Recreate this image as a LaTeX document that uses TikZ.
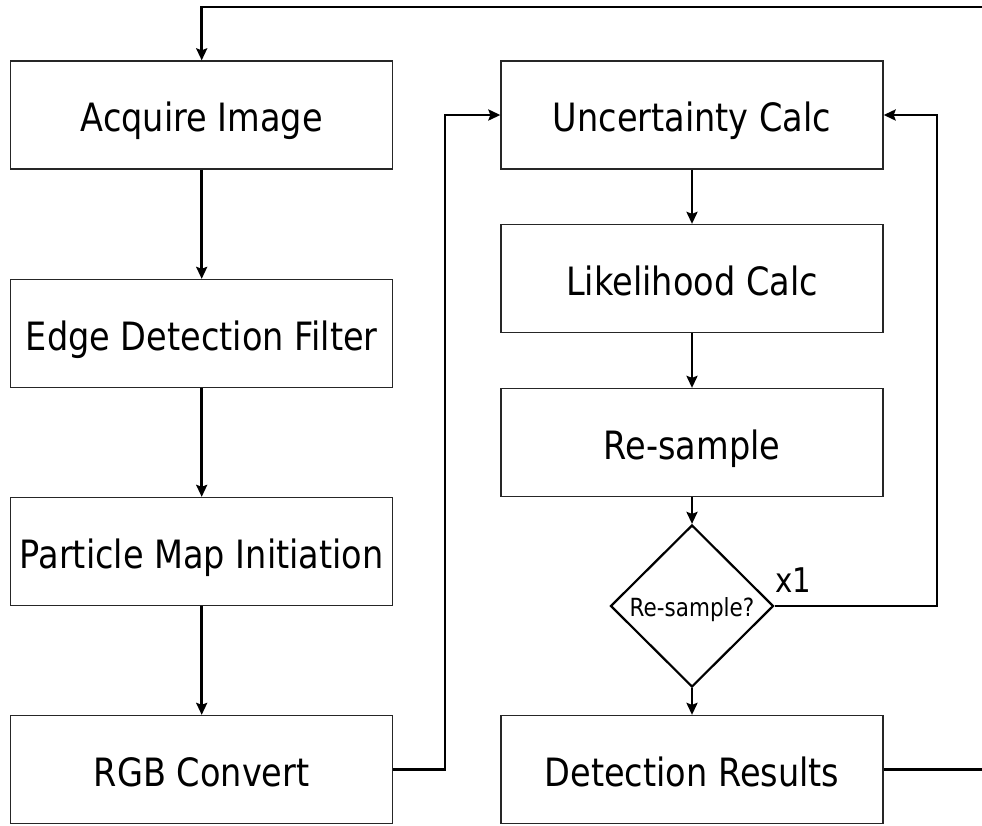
\documentclass[tikz,border=0pt]{standalone}
\usepackage{fontspec}
\setmainfont[FakeStretch=0.86]{DejaVu Sans}
\usetikzlibrary{shapes.geometric,arrows.meta}

\tikzset{
  procbox/.style={draw=black!85, line width=1.3pt, minimum width=382pt, minimum height=108pt,
    inner sep=0pt, text height=33pt, text depth=0pt, font=\fontsize{39}{44}\selectfont},
  decision/.style={draw=black, line width=2.2pt, shape=diamond, minimum width=163pt,
    minimum height=162pt, inner sep=0pt, text height=21pt, text depth=0pt,
    font=\fontsize{25}{28}\selectfont},
  flow/.style={line width=2.8pt, -{Stealth[length=12pt,width=11pt,inset=2pt]}},
  note/.style={font=\fontsize{34}{36}\selectfont, inner sep=0pt}
}

\begin{document}
\begin{tikzpicture}[x=1pt,y=-1pt]
  \useasboundingbox (0,0) rectangle (982,825);

  % left column
  \node[procbox] (acq)  at (201.7,115)   {Acquire Image};
  \node[procbox] (edge) at (201.7,333.5) {Edge Detection Filter};
  \node[procbox] (pmi)  at (201.7,551.5) {Particle Map Initiation};
  \node[procbox] (rgb)  at (201.7,769.5) {RGB Convert};

  % right column
  \node[procbox] (unc)  at (692,115)   {Uncertainty Calc};
  \node[procbox] (lik)  at (692,278.5) {Likelihood Calc};
  \node[procbox] (res)  at (692,442.5) {Re-sample};
  \node[decision] (dec) at (692,606)   {Re-sample?};
  \node[procbox] (det)  at (692,769.5) {Detection Results};

  % routing points
  \coordinate (rgbout) at (445,769.5);
  \coordinate (decout) at (937,606);
  \coordinate (farR)   at (992,769.5);
  \coordinate (top)    at (992,7);

  % straight flow
  \draw[flow] (acq) -- (edge);
  \draw[flow] (edge) -- (pmi);
  \draw[flow] (pmi) -- (rgb);
  \draw[flow] (unc) -- (lik);
  \draw[flow] (lik) -- (res);
  \draw[flow] (res) -- (dec);
  \draw[flow] (dec) -- (det);

  % RGB output into the estimation loop
  \draw[flow] (rgb.east) -- (rgbout) |- (unc.west);

  % re-sample loop back
  \draw[flow] (dec.east) -- (decout) |- (unc.east);
  \node[note, anchor=base west] (xone) at (775,592) {x1};

  % results fed back to acquisition
  \draw[flow] (det.east) -- (farR) -- (top) -| (acq.north);
\end{tikzpicture}
\end{document}
